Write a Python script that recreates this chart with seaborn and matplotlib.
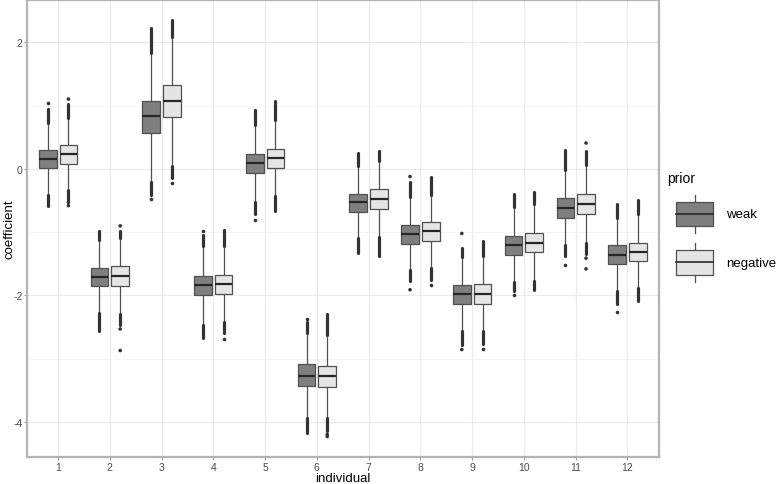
import matplotlib
matplotlib.use("Agg")
import matplotlib.pyplot as plt
import numpy as np
import pandas as pd
import seaborn as sns
from matplotlib.legend_handler import HandlerBase
from matplotlib.patches import Rectangle, Patch
from matplotlib.lines import Line2D

individuals = [str(i) for i in range(1, 13)]
priors = ["weak", "negative"]

# weak prior: quartiles, whisker ends, far end of the dense outlier runs, lone outliers
weak_q1 = [0.01, -1.855, 0.57, -2.00, -0.07, -3.43, -0.68, -1.18, -2.13, -1.36, -0.77, -1.50]
weak_med = [0.16, -1.71, 0.83, -1.84, 0.088, -3.27, -0.53, -1.03, -1.985, -1.207, -0.616, -1.354]
weak_q3 = [0.305, -1.565, 1.08, -1.69, 0.237, -3.09, -0.39, -0.885, -1.84, -1.054, -0.464, -1.21]
weak_wlo = [-0.41, -2.27, -0.20, -2.46, -0.53, -3.93, -1.09, -1.60, -2.565, -1.79, -1.21, -1.93]
weak_whi = [0.73, -1.13, 1.83, -1.22, 0.69, -2.59, 0.04, -0.45, -1.40, -0.60, -0.01, -0.78]
weak_out_lo = [-0.58, -2.57, -0.41, -2.67, -0.72, -4.17, -1.33, -1.775, -2.78, -1.93, -1.38, -2.14]
weak_out_hi = [0.95, -0.985, 2.23, -1.05, 0.93, -2.42, 0.26, -0.20, -1.25, -0.39, 0.30, -0.55]
weak_lone_ind = [1, 3, 4, 5, 6, 8, 8, 9, 9, 10, 11, 12]
weak_lone_val = [1.04, -0.47, -0.985, -0.81, -2.37, -0.12, -1.91, -1.02, -2.855, -2.0, -1.52, -2.26]

# negative prior
neg_q1 = [0.079, -1.855, 0.82, -1.975, 0.016, -3.44, -0.627, -1.14, -2.13, -1.32, -0.71, -1.46]
neg_med = [0.231, -1.70, 1.08, -1.82, 0.167, -3.28, -0.47, -0.985, -1.97, -1.165, -0.553, -1.31]
neg_q3 = [0.373, -1.54, 1.33, -1.67, 0.32, -3.12, -0.316, -0.84, -1.82, -1.01, -0.40, -1.17]
neg_wlo = [-0.34, -2.30, 0.05, -2.42, -0.42, -3.93, -1.075, -1.56, -2.565, -1.765, -1.17, -1.88]
neg_whi = [0.80, -1.09, 2.08, -1.22, 0.77, -2.62, 0.12, -0.41, -1.38, -0.55, 0.07, -0.72]
neg_out_lo = [-0.49, -2.46, -0.14, -2.59, -0.67, -4.15, -1.37, -1.75, -2.765, -1.92, -1.35, -2.09]
neg_out_hi = [1.03, -0.985, 2.35, -0.96, 1.08, -2.30, 0.29, -0.12, -1.14, -0.37, 0.28, -0.485]
neg_lone_ind = [1, 1, 1, 2, 2, 2, 3, 4, 6, 6, 8, 9, 11, 11, 11]
neg_lone_val = [1.105, -0.53, -0.58, -0.90, -2.53, -2.87, -0.22, -2.69, -4.20, -4.23, -1.84, -2.84, 0.41, -1.41, -1.58]

fills = {"weak": "#7f7f7f", "negative": "#e5e5e5"}
edge = "#505050"
dot = "#333333"

stats = {
    "weak": (weak_wlo, weak_q1, weak_med, weak_q3, weak_whi, weak_out_lo, weak_out_hi),
    "negative": (neg_wlo, neg_q1, neg_med, neg_q3, neg_whi, neg_out_lo, neg_out_hi),
}

# five points per box -> quartiles land exactly on q1/med/q3, whiskers on min/max
rows = []
for p in priors:
    wlo, q1, med, q3, whi = stats[p][:5]
    for i, ind in enumerate(individuals):
        for v in (wlo[i], q1[i], med[i], q3[i], whi[i]):
            rows.append((ind, p, v))
box_df = pd.DataFrame(rows, columns=["individual", "prior", "coefficient"])

dot_df = pd.DataFrame({
    "individual": [str(i) for i in weak_lone_ind + neg_lone_ind],
    "prior": ["weak"] * len(weak_lone_ind) + ["negative"] * len(neg_lone_ind),
    "coefficient": weak_lone_val + neg_lone_val,
})

plt.rcParams["font.family"] = ["Liberation Sans", "DejaVu Sans"]
plt.rcParams["axes.unicode_minus"] = False

fig = plt.figure(figsize=(7.77, 4.85), dpi=100)
ax = fig.add_axes([27 / 777, 26.7 / 485, 631.5 / 777, 457.8 / 485])

sns.boxplot(data=box_df, x="individual", y="coefficient", hue="prior",
            order=individuals, hue_order=priors, palette=fills,
            width=0.8, gap=0.15, whis=(0, 100), showfliers=False,
            showcaps=False, saturation=1, linecolor=edge, linewidth=0.9,
            medianprops=dict(color="#262626", linewidth=1.6),
            legend=False, ax=ax)

# dense runs of outliers
offsets = {"weak": -0.2, "negative": 0.2}
pos = np.arange(len(individuals))
for p in priors:
    wlo, q1, med, q3, whi, out_lo, out_hi = stats[p]
    ax.vlines(pos + offsets[p], whi, out_hi, colors=dot, lw=2.3, capstyle="round", zorder=3)
    ax.vlines(pos + offsets[p], out_lo, wlo, colors=dot, lw=2.3, capstyle="round", zorder=3)

sns.stripplot(data=dot_df, x="individual", y="coefficient", hue="prior",
              order=individuals, hue_order=priors,
              palette={"weak": dot, "negative": dot}, dodge=True, jitter=False,
              size=2.6, linewidth=0, legend=False, zorder=3, ax=ax)

allv = np.array(weak_out_lo + weak_out_hi + weak_lone_val + neg_out_lo + neg_out_hi + neg_lone_val)
span = allv.max() - allv.min()
ax.set_ylim(allv.min() - 0.05 * span, allv.max() + 0.05 * span)
ax.set_xlim(-0.6, len(individuals) - 0.4)
ax.set_yticks([-4, -2, 0, 2])
ax.set_yticks([-3, -1, 1], minor=True)

ax.set_axisbelow(True)
ax.grid(which="major", color="#ebebeb", lw=0.9)
ax.grid(which="minor", axis="y", color="#f3f3f3", lw=0.5)
ax.tick_params(which="minor", length=0)
ax.tick_params(which="major", length=2, color="#999999", labelsize=7.5,
               labelcolor="#4d4d4d", pad=1.2)
for s in ax.spines.values():
    s.set_color("#b3b3b3")
    s.set_linewidth(1.6)

ax.set_xlabel("individual", fontsize=9.5, labelpad=0.5)
ax.set_ylabel("coefficient", fontsize=9.5)
ax.yaxis.set_label_coords(-0.0182, 0.5)


class BoxKey(HandlerBase):
    def create_artists(self, legend, orig_handle, xdescent, ydescent,
                       width, height, fontsize, trans):
        x0, y0 = -xdescent, -ydescent
        bw = width * 0.80
        bx = x0 + width - bw
        cx = bx + bw / 2
        bh = height * 0.625
        by = y0 + (height - bh) / 2
        arts = [
            Line2D([cx, cx], [y0, by], color=edge, lw=0.9),
            Line2D([cx, cx], [by + bh, y0 + height], color=edge, lw=0.9),
            Rectangle((bx, by), bw, bh, facecolor=orig_handle.get_facecolor(),
                      edgecolor=edge, lw=0.9),
            Line2D([bx, bx + bw], [by + bh / 2] * 2, color="#262626", lw=1.2),
        ]
        for a in arts:
            a.set_transform(trans)
        return arts


handles = [Patch(facecolor=fills[p]) for p in priors]
fig.legend(handles, priors, title="prior", loc="upper left",
           bbox_to_anchor=(667 / 777, 1 - 172 / 485), frameon=False,
           fontsize=9.5, title_fontsize=10, alignment="left",
           handler_map={Patch: BoxKey()}, handlelength=3.49,
           handleheight=4.17, labelspacing=0.72, handletextpad=0.99,
           borderpad=0, borderaxespad=0)

fig.savefig("out.png", dpi=100)
